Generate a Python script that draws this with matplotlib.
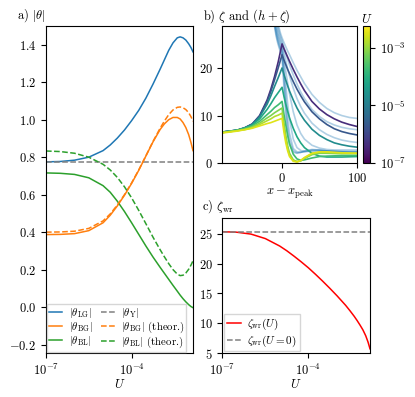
import numpy as np
import matplotlib
matplotlib.use("Agg")
import matplotlib.pyplot as plt
from matplotlib.colors import LogNorm
import matplotlib.cm as cm

plt.rcParams['font.family'] = 'serif'
plt.rcParams['font.serif'] = ['cmr10']
plt.rcParams['mathtext.fontset'] = 'cm'
plt.rcParams['axes.formatter.use_mathtext'] = True
plt.rcParams['font.size'] = 9

# ---- panel a / c : quantities against U (log10 U grid)
logU = [-7, -6.5, -6, -5.5, -5, -4.75, -4.5, -4.25, -4, -3.75, -3.5, -3.25,
        -3, -2.85, -2.7, -2.55, -2.4, -2.3, -2.2, -2.1, -2.0, -1.92, -1.85]
theta_LG = [0.775, 0.777, 0.784, 0.800, 0.835, 0.865, 0.902, 0.945, 0.995, 1.05, 1.115, 1.19,
            1.27, 1.32, 1.37, 1.41, 1.437, 1.442, 1.437, 1.425, 1.405, 1.385, 1.362]
theta_BG = [0.387, 0.388, 0.392, 0.408, 0.45, 0.49, 0.54, 0.597, 0.66, 0.73, 0.806, 0.882,
            0.948, 0.978, 1.0, 1.012, 1.012, 1.004, 0.985, 0.958, 0.92, 0.878, 0.835]
theta_BL = [0.716, 0.714, 0.708, 0.69, 0.648, 0.613, 0.565, 0.51, 0.45, 0.388, 0.326, 0.267,
            0.212, 0.18, 0.148, 0.116, 0.085, 0.064, 0.045, 0.028, 0.013, 0.003, -0.003]
theta_BG_th = [0.40, 0.401, 0.405, 0.42, 0.46, 0.497, 0.545, 0.60, 0.663, 0.732, 0.807, 0.884,
               0.955, 0.993, 1.027, 1.052, 1.066, 1.068, 1.064, 1.054, 1.037, 1.016, 0.992]
theta_BL_th = [0.833, 0.83, 0.821, 0.80, 0.762, 0.732, 0.692, 0.642, 0.583, 0.516, 0.445, 0.373,
               0.306, 0.268, 0.232, 0.20, 0.176, 0.168, 0.170, 0.182, 0.202, 0.224, 0.247]
theta_Y = 0.775

zeta_wr = [25.35, 25.27, 24.95, 24.2, 22.95, 22.15, 21.25, 20.3, 19.3, 18.2, 17.05, 15.85,
           14.6, 13.8, 13.0, 12.1, 11.15, 10.45, 9.7, 8.9, 7.9, 6.85, 5.7]
zeta_wr0 = 25.3

# ---- panel b : profiles around the peak, one per U
U_prof = [4e-7, 2e-6, 2e-5, 7e-5, 2e-4, 7e-4, 1.6e-3, 3.5e-3]
U_min, U_max = 1e-7, 6e-3

x_zeta = [-80, -70, -60, -50, -40, -30, -20, -15, -10, -5, 0,
          2.5, 5, 7.5, 10, 15, 20, 25, 30, 40, 50, 60, 70, 80, 90, 100]
zeta = [
    [6.5, 6.7, 6.9, 7.4, 8.2, 10.0, 13.3, 15.6, 18.3, 21.5, 25.2,
     24.2, 23.3, 22.4, 21.5, 19.8, 18.2, 16.7, 15.3, 13.0, 11.4, 10.2, 9.3, 8.6, 8.1, 7.7],
    [6.5, 6.7, 6.9, 7.4, 8.2, 9.9, 13.0, 15.1, 17.6, 20.2, 22.9,
     21.8, 20.8, 19.8, 18.9, 17.2, 15.6, 14.2, 12.9, 10.8, 9.3, 8.1, 7.2, 6.6, 6.2, 5.9],
    [6.5, 6.7, 6.9, 7.4, 8.1, 9.7, 12.4, 14.2, 16.2, 18.1, 20.1,
     18.7, 17.5, 16.3, 15.2, 13.3, 11.6, 10.2, 9.0, 7.1, 5.8, 4.9, 4.2, 3.8, 3.5, 3.3],
    [6.5, 6.7, 6.9, 7.3, 8.0, 9.3, 11.3, 12.5, 13.8, 14.9, 16.0,
     14.1, 12.4, 10.9, 9.5, 7.3, 5.5, 4.2, 3.2, 2.0, 1.4, 1.2, 1.2, 1.2, 1.25, 1.3],
    [6.4, 6.6, 6.9, 7.3, 7.8, 8.8, 10.2, 10.9, 11.7, 12.3, 13.0,
     10.3, 8.0, 5.8, 4.0, 1.8, 0.8, 0.5, 0.6, 1.0, 1.3, 1.4, 1.45, 1.5, 1.5, 1.5],
    [6.4, 6.6, 6.8, 7.1, 7.6, 8.4, 9.5, 10.0, 10.6, 11.1, 11.6,
     8.5, 5.8, 3.6, 2.0, 0.6, 0.25, 0.4, 0.9, 1.7, 2.0, 2.0, 1.95, 1.9, 1.9, 1.9],
    [6.4, 6.6, 6.8, 7.0, 7.4, 8.1, 8.9, 9.3, 9.8, 10.1, 10.5,
     7.5, 5.0, 3.0, 1.6, 0.4, 0.2, 0.4, 1.0, 1.9, 2.2, 2.2, 2.1, 2.05, 2.0, 2.0],
    [6.3, 6.5, 6.7, 7.0, 7.3, 7.8, 8.3, 8.5, 8.8, 9.1, 9.4,
     6.5, 4.2, 2.5, 1.3, 0.3, 0.15, 0.5, 1.1, 2.0, 2.3, 2.3, 2.2, 2.1, 2.05, 2.0],
]

x_surf = [-14, -12, -10, -8, -6, -4, -2, 0,
          2.5, 5, 7.5, 10, 15, 20, 25, 30, 40, 50, 60, 70, 80, 90, 100]
surface = [
    [44, 39, 35, 32, 30, 28.6, 27.4, 26.5,
     25.5, 24.6, 23.7, 22.9, 21.2, 19.6, 18.2, 16.8, 14.5, 12.8, 11.5, 10.6, 10.0, 9.6, 9.4],
    [42, 37.5, 34, 31, 29.2, 27.9, 26.8, 25.9,
     24.5, 23.2, 21.9, 20.7, 18.6, 16.7, 15.0, 13.6, 11.3, 9.8, 8.7, 8.0, 7.5, 7.2, 7.0],
    [40, 36, 32.5, 30, 28.3, 27.1, 26.1, 25.3,
     23.4, 21.6, 19.9, 18.4, 15.8, 13.6, 11.9, 10.5, 8.4, 7.0, 6.0, 5.3, 4.8, 4.5, 4.3],
    [38.5, 34.5, 31.3, 29.0, 27.5, 26.4, 25.5, 24.7,
     22.0, 19.4, 16.9, 14.6, 10.8, 8.0, 6.2, 5.0, 3.7, 3.1, 2.8, 2.7, 2.7, 2.7, 2.7],
    [37.5, 33.5, 30.4, 28.3, 26.9, 25.8, 24.9, 24.1,
     20.5, 16.5, 12.5, 9.2, 5.0, 3.2, 2.6, 2.4, 2.4, 2.5, 2.5, 2.4, 2.4, 2.4, 2.4],
    [36.5, 32.6, 29.7, 27.7, 26.3, 25.2, 24.3, 23.5,
     19.0, 14.0, 9.5, 6.2, 3.0, 2.3, 2.2, 2.3, 2.6, 2.6, 2.5, 2.4, 2.35, 2.3, 2.3],
    [36, 32, 29.2, 27.3, 25.9, 24.8, 23.9, 23.0,
     17.5, 12.0, 7.5, 4.8, 2.5, 2.1, 2.2, 2.4, 2.7, 2.7, 2.5, 2.4, 2.3, 2.25, 2.2],
    [35.5, 31.5, 28.8, 26.9, 25.5, 24.4, 23.4, 22.5,
     16.0, 10.0, 6.0, 3.8, 2.2, 2.0, 2.2, 2.5, 2.8, 2.7, 2.5, 2.4, 2.3, 2.2, 2.2],
]

U = 10.0 ** np.array(logU)
xlim_U = (1e-7, 10 ** -1.85)

fig = plt.figure(figsize=(4.15, 3.97), dpi=100)
ax_a = fig.add_axes([0.1108, 0.1108, 0.3542, 0.8237])
ax_b = fig.add_axes([0.5357, 0.5902, 0.3239, 0.3443])
ax_cb = fig.add_axes([0.8747, 0.5902, 0.018, 0.3443])
ax_c = fig.add_axes([0.5357, 0.1108, 0.3559, 0.3408])

# a) angles
lw = 1.1
l1, = ax_a.plot(U, theta_LG, color='C0', lw=lw)
l2, = ax_a.plot(U, theta_BG, color='C1', lw=lw)
l3, = ax_a.plot(U, theta_BL, color='C2', lw=lw)
l4 = ax_a.axhline(theta_Y, color='gray', ls='--', lw=lw)
l5, = ax_a.plot(U, theta_BG_th, color='C1', ls='--', lw=lw)
l6, = ax_a.plot(U, theta_BL_th, color='C2', ls='--', lw=lw)
ax_a.set_xscale('log')
ax_a.set_xlim(*xlim_U)
ax_a.set_ylim(-0.245, 1.5)
ax_a.set_xticks([1e-7, 1e-4])
ax_a.xaxis.set_minor_locator(matplotlib.ticker.NullLocator())
ax_a.set_yticks([-0.2, 0.0, 0.2, 0.4, 0.6, 0.8, 1.0, 1.2, 1.4])
ax_a.set_xlabel('$U$', labelpad=0)
ax_a.legend([l1, l2, l3, l4, l5, l6],
            [r'$|\theta_{\rm LG}|$', r'$|\theta_{\rm BG}|$', r'$|\theta_{\rm BL}|$',
             r'$|\theta_{\rm Y}|$', r'$|\theta_{\rm BG}|$ (theor.)', r'$|\theta_{\rm BL}|$ (theor.)'],
            ncol=2, loc='lower left', fontsize=7.8, handlelength=1.25, columnspacing=0.8,
            handletextpad=0.6, borderpad=0.15, labelspacing=0.0, borderaxespad=0.1,
            fancybox=False, framealpha=0.8)
ax_a.text(-0.2, 1.005, r'a) $|\theta|$', transform=ax_a.transAxes, va='bottom', ha='left')

# b) profiles
norm = LogNorm(vmin=U_min, vmax=U_max)
cmap = plt.get_cmap('viridis')
for u, s in zip(U_prof, surface):
    ax_b.plot(x_surf, s, color='C0', alpha=0.35, lw=1.2)
for u, z in zip(U_prof, zeta):
    ax_b.plot(x_zeta, z, color=cmap(norm(u)), lw=1.2)
ax_b.set_xlim(-80, 100)
ax_b.set_ylim(0, 29)
ax_b.set_xticks([0, 100])
ax_b.set_yticks([0, 10, 20])
ax_b.set_xlabel(r'$x - x_{\rm peak}$', labelpad=1)
ax_b.text(-0.146, 1.01, r'b) $\zeta$ and $(h+\zeta)$', transform=ax_b.transAxes,
          va='bottom', ha='left')

sm = cm.ScalarMappable(norm=norm, cmap=cmap)
cb = fig.colorbar(sm, cax=ax_cb)
cb.set_ticks([1e-7, 1e-5, 1e-3])
cb.ax.yaxis.set_minor_locator(matplotlib.ticker.NullLocator())
cb.ax.set_title('$U$', fontsize=9, pad=1)

# c) zeta_wr
ax_c.plot(U, zeta_wr, color='red', lw=lw, label=r'$\zeta_{\rm wr}(U)$')
ax_c.axhline(zeta_wr0, color='gray', ls='--', lw=lw, label=r'$\zeta_{\rm wr}(U=0)$')
ax_c.set_xscale('log')
ax_c.set_xlim(*xlim_U)
ax_c.set_ylim(5, 27.7)
ax_c.set_xticks([1e-7, 1e-4])
ax_c.xaxis.set_minor_locator(matplotlib.ticker.NullLocator())
ax_c.set_yticks([5, 10, 15, 20, 25])
ax_c.set_xlabel('$U$', labelpad=0)
ax_c.legend(loc='lower left', fontsize=8, handlelength=1.25, handletextpad=0.6,
            borderpad=0.25, labelspacing=0.1, borderaxespad=0.15, fancybox=False,
            framealpha=0.8)
ax_c.text(-0.14, 1.02, r'c) $\zeta_{\rm wr}$', transform=ax_c.transAxes,
          va='bottom', ha='left')

fig.savefig('out.png', dpi=100)
